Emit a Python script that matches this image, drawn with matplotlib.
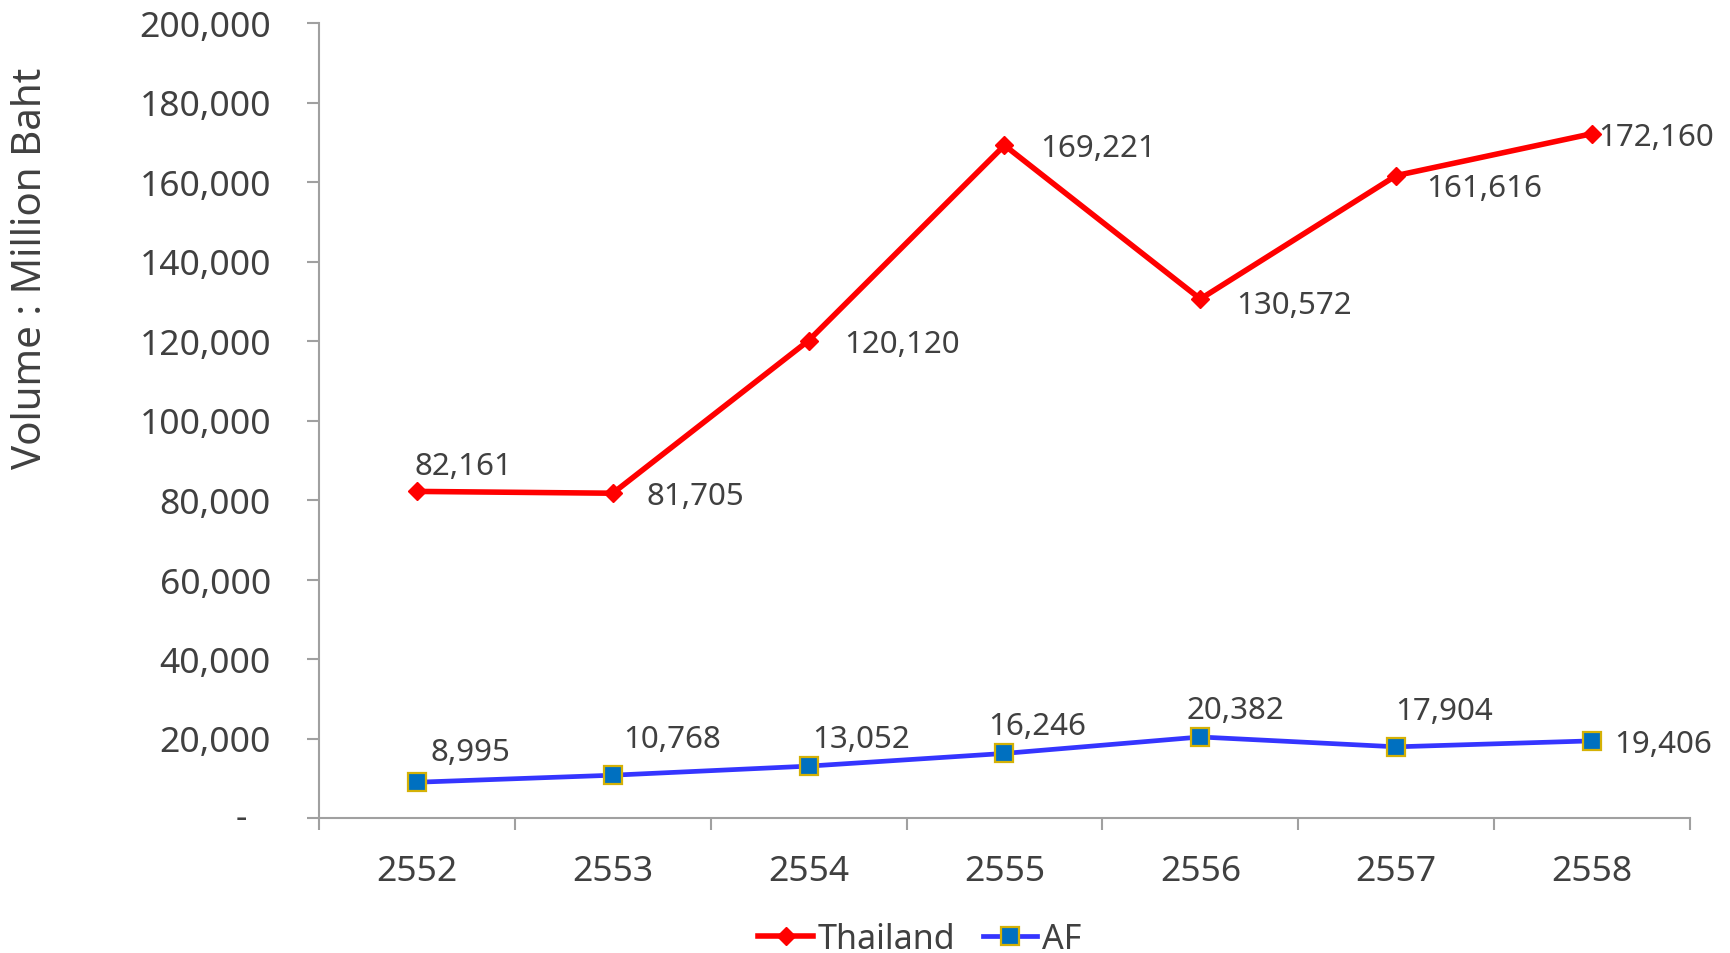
import matplotlib
matplotlib.use("Agg")
import matplotlib.pyplot as plt
from matplotlib.ticker import FixedLocator, FuncFormatter

years = ["2552", "2553", "2554", "2555", "2556", "2557", "2558"]
thailand = [82161, 81705, 120120, 169221, 130572, 161616, 172160]
af = [8995, 10768, 13052, 16246, 20382, 17904, 19406]
yticks = [0, 20000, 40000, 60000, 80000, 100000, 120000, 140000, 160000, 180000, 200000]

# label offsets in pixels (dx, dy, ha)
th_off = [(47, 25, "center"), (34, -3, "left"), (36, -3, "left"), (36, -3, "left"),
          (36, -6, "left"), (30, -12, "left"), (6, -3, "left")]
af_off = [(54, 30, "center"), (59, 36, "center"), (52, 27, "center"), (33, 27, "center"),
          (35, 27, "center"), (48, 36, "center"), (22, -3, "left")]

plt.rcParams['font.family'] = ['Noto Sans', 'DejaVu Sans']
TXT = '#404040'
AXC = '#A0A0A0'

fig = plt.figure(figsize=(17.30, 9.54), dpi=100)
ax = fig.add_axes([319/1730, 1-819/954, (1690-319)/1730, (819-24)/954])

x = list(range(len(years)))
ax.plot(x, thailand, color='#FF0000', lw=4.0, marker='D', ms=9, mfc='#FF0000',
        mec='#FF0000', label='Thailand', zorder=3)
ax.plot(x, af, color='#3535FF', lw=3.4, marker='s', ms=13, mfc='#0070C0',
        mec='#D4B106', mew=1.6, label='AF', zorder=3)

ax.set_xlim(-0.5, len(years) - 0.5)
ax.set_ylim(0, 200000)

for s in ['top', 'right']:
    ax.spines[s].set_visible(False)
for s in ['left', 'bottom']:
    ax.spines[s].set_color(AXC)
    ax.spines[s].set_linewidth(1.5)

ax.set_xticks(x)
ax.set_xticklabels(years)
ax.xaxis.set_minor_locator(FixedLocator([i - 0.5 for i in range(len(years) + 1)]))
ax.tick_params(axis='x', which='major', length=0, pad=26, labelsize=25.5, labelcolor=TXT)
ax.tick_params(axis='x', which='minor', length=8.6, width=1.5, color=AXC, direction='out')

ax.yaxis.set_major_locator(FixedLocator(yticks))
ax.yaxis.set_major_formatter(FuncFormatter(lambda v, p: "" if v == 0 else f"{int(v):,}"))
ax.tick_params(axis='y', which='major', length=8.6, width=1.5, color=AXC, direction='out',
               pad=26, labelsize=25.5, labelcolor=TXT)
ax.annotate('-', xy=(0, 0), xycoords=('axes fraction', 'data'), xytext=(-72, 0),
            textcoords='offset pixels', ha='right', va='center', fontsize=25.5, color=TXT)

for i, v in enumerate(thailand):
    dx, dy, ha = th_off[i]
    ax.annotate(f"{v:,}", xy=(i, v), xytext=(dx, dy), textcoords='offset pixels',
                ha=ha, va='center', fontsize=22.5, color=TXT)
for i, v in enumerate(af):
    dx, dy, ha = af_off[i]
    ax.annotate(f"{v:,}", xy=(i, v), xytext=(dx, dy), textcoords='offset pixels',
                ha=ha, va='center', fontsize=22.5, color=TXT)

fig.text(31/1730, 1-268/954, "Volume : Million Baht", rotation=90, ha='center', va='center',
         fontsize=29, color=TXT)

leg = fig.legend(loc='center', bbox_to_anchor=(920/1730, 1-940/954), ncol=2, frameon=False,
                 fontsize=24.5, handlelength=1.6, handletextpad=0.15, columnspacing=0.8,
                 labelcolor=TXT, borderaxespad=0)

fig.savefig("out.png", dpi=100, facecolor='white')
